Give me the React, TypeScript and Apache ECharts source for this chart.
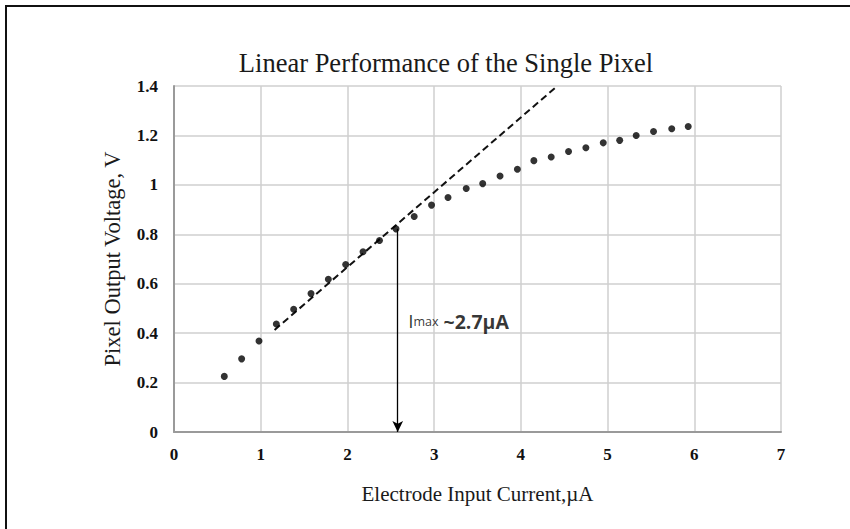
import React, { useEffect, useRef } from "react";
import * as echarts from "echarts";

const currentUA = [0.58, 0.78, 0.98, 1.18, 1.38, 1.58, 1.78, 1.98, 2.18, 2.37, 2.56, 2.77, 2.97, 3.16, 3.37, 3.56, 3.76, 3.96, 4.15, 4.35, 4.55, 4.75, 4.95, 5.14, 5.33, 5.53, 5.74, 5.93];
const voltageV = [0.225, 0.296, 0.368, 0.437, 0.497, 0.56, 0.618, 0.678, 0.729, 0.775, 0.822, 0.872, 0.918, 0.949, 0.985, 1.005, 1.036, 1.063, 1.098, 1.113, 1.135, 1.15, 1.17, 1.18, 1.2, 1.216, 1.227, 1.236];
const fitLine = [[1.16, 0.413], [4.42, 1.4]];
const arrowLine = [[2.58, 0.822], [2.58, 0]];
const annotation = [2.7, 0.449];

const serif = "'Liberation Serif', 'Times New Roman', serif";
const sans = "'Open Sans', 'Noto Sans', sans-serif";

export default function App() {
  const ref = useRef<HTMLDivElement>(null);
  useEffect(() => {
    if (!ref.current) return;
    const chart = echarts.init(ref.current, undefined, { renderer: "svg" });
    const points = currentUA.map((x, i) => [x, voltageV[i]]);
    chart.setOption({
      animation: false,
      backgroundColor: "#ffffff",
      title: {
        text: "Linear Performance of the Single Pixel",
        left: 441,
        top: 44,
        textAlign: "center",
        textStyle: { fontFamily: serif, fontSize: 26.5, fontWeight: "normal", color: "#1a1a1a" },
      },
      graphic: [
        {
          type: "rect",
          shape: { x: 6, y: 6, width: 900, height: 600 },
          style: { fill: "none", stroke: "#111", lineWidth: 2 },
          silent: true,
        },
      ],
      grid: { left: 174, top: 86, right: 69, bottom: 97, containLabel: false, outerBoundsMode: "none" },
      xAxis: {
        type: "value",
        min: 0,
        max: 7,
        interval: 1,
        name: "Electrode Input Current,\u00b5A",
        nameLocation: "middle",
        nameGap: 51,
        nameTextStyle: { fontFamily: serif, fontSize: 21, color: "#1a1a1a" },
        axisLine: { show: true, lineStyle: { color: "#9a9a9a", width: 2 } },
        axisTick: { show: false },
        axisLabel: { fontFamily: serif, fontSize: 17, fontWeight: "bold", color: "#111", margin: 14 },
        splitLine: { show: true, lineStyle: { color: "#cfcfcf", width: 1.5 } },
      },
      yAxis: {
        type: "value",
        min: 0,
        max: 1.4,
        interval: 0.2,
        name: "Pixel Output Voltage, V",
        nameLocation: "middle",
        nameGap: 50,
        nameRotate: 90,
        nameTextStyle: { fontFamily: serif, fontSize: 22.5, color: "#1a1a1a" },
        axisLine: { show: true, lineStyle: { color: "#9a9a9a", width: 2 } },
        axisTick: { show: false },
        axisLabel: { fontFamily: serif, fontSize: 17, fontWeight: "bold", color: "#111", margin: 16 },
        splitLine: { show: true, lineStyle: { color: "#cfcfcf", width: 1.5 } },
      },
      series: [
        {
          type: "line",
          data: fitLine,
          symbol: "none",
          clip: false,
          lineStyle: { color: "#111", width: 2, type: [7, 4] },
          z: 3,
        },
        {
          type: "scatter",
          data: points,
          symbol: "circle",
          symbolSize: 7,
          itemStyle: { color: "#000" },
          z: 4,
        },
        {
          type: "line",
          data: [],
          silent: true,
          markLine: {
            silent: true,
            animation: false,
            symbol: ["none", "arrow"],
            symbolSize: [8, 11],
            label: { show: false },
            lineStyle: { color: "#000", width: 1.3, type: "solid" },
            data: [[{ coord: arrowLine[0] }, { coord: arrowLine[1] }]],
          },
          z: 5,
        },
        {
          type: "scatter",
          data: [annotation],
          symbolSize: 0,
          silent: true,
          label: {
            show: true,
            position: "right",
            distance: 0,
            color: "#000",
            formatter: "{i|I}{s|max}{b| ~2.7\u00b5A}",
            rich: {
              i: { fontFamily: sans, fontSize: 19, color: "#000" },
              s: { fontFamily: sans, fontSize: 12.5, color: "#000" },
              b: { fontFamily: sans, fontSize: 19.5, fontWeight: "bold", color: "#000" },
            },
          },
          z: 6,
        },
      ],
    });
    return () => chart.dispose();
  }, []);
  return <div ref={ref} style={{ position: "fixed", left: 0, top: 0, width: 850, height: 529 }} />;
}
